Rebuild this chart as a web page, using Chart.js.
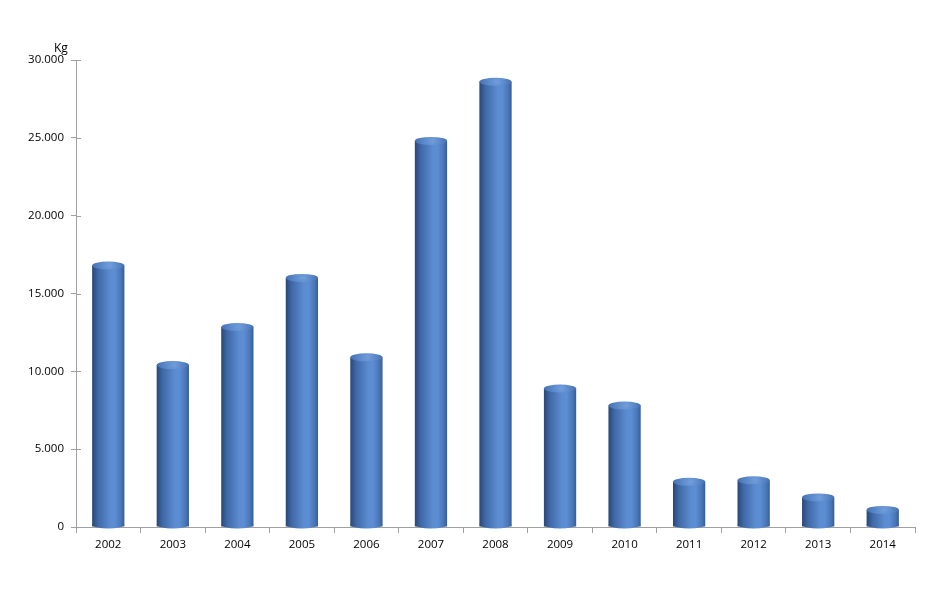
<!DOCTYPE html>
<html>
<head>
<meta charset="utf-8">
<script src="https://cdn.jsdelivr.net/npm/chart.js@4/dist/chart.umd.min.js"></script>
<style>
  body { margin: 0; background: #fff; }
</style>
</head>
<body>
<canvas id="chart" width="935" height="600"></canvas>
<script>
// data
const years = ['2002', '2003', '2004', '2005', '2006', '2007', '2008', '2009', '2010', '2011', '2012', '2013', '2014'];
const kg = [16800, 10400, 12850, 16000, 10900, 24800, 28600, 8900, 7800, 2900, 3000, 1900, 1100];
const yTicks = [0, 5000, 10000, 15000, 20000, 25000, 30000];

// thousands with a dot, like 25.000
function fmt(v) {
  return v === 0 ? '0' : String(v).replace(/\B(?=(\d{3})+(?!\d))/g, '.');
}

// side shading for a cylinder between x0 and x1
function sideGradient(ctx, x0, x1) {
  const g = ctx.createLinearGradient(x0, 0, x1, 0);
  g.addColorStop(0, '#2a4775');
  g.addColorStop(0.18, '#3f68a6');
  g.addColorStop(0.55, '#5b8bd0');
  g.addColorStop(0.7, '#5d8ed4');
  g.addColorStop(0.9, '#4875b6');
  g.addColorStop(1, '#365c94');
  return g;
}

// round tops and bottoms on the bars
const cylinder = {
  id: 'cylinder',
  afterDatasetsDraw(chart) {
    const ctx = chart.ctx;
    chart.getDatasetMeta(0).data.forEach(bar => {
      const w = bar.width, rx = w / 2, ry = 4;
      // bottom
      ctx.save();
      ctx.fillStyle = sideGradient(ctx, bar.x - rx, bar.x + rx);
      ctx.beginPath();
      ctx.ellipse(bar.x, bar.base - 2, rx, ry, 0, 0, Math.PI);
      ctx.fill();
      // top
      const tg = ctx.createRadialGradient(bar.x + rx * 0.1, bar.y, 1, bar.x, bar.y, rx);
      tg.addColorStop(0, '#6f9bd9');
      tg.addColorStop(0.6, '#5584c6');
      tg.addColorStop(1, '#4570ae');
      ctx.fillStyle = tg;
      ctx.beginPath();
      ctx.ellipse(bar.x, bar.y, rx, ry, 0, 0, Math.PI * 2);
      ctx.fill();
      ctx.restore();
    });
  }
};

// "Kg" above the axis, and small ticks to the right of the y axis
const axisExtras = {
  id: 'axisExtras',
  afterDraw(chart) {
    const ctx = chart.ctx;
    const y = chart.scales.y;
    ctx.save();
    ctx.strokeStyle = '#a0a0a0';
    ctx.lineWidth = 1;
    yTicks.forEach(t => {
      const py = Math.round(y.getPixelForValue(t)) + 0.5;
      ctx.beginPath();
      ctx.moveTo(y.right, py);
      ctx.lineTo(y.right + 5, py);
      ctx.stroke();
    });
    ctx.fillStyle = '#000';
    ctx.font = '12px "Open Sans"';
    ctx.textAlign = 'left';
    ctx.textBaseline = 'bottom';
    ctx.fillText('Kg', 54, y.top - 5);
    ctx.restore();
  }
};

new Chart(document.getElementById('chart'), {
  type: 'bar',
  data: {
    labels: years,
    datasets: [{
      data: kg,
      backgroundColor: function (c) {
        const chart = c.chart;
        if (!chart.chartArea) return '#4a7bbf';
        const x = chart.scales.x;
        const cx = x.getPixelForValue(c.dataIndex);
        const half = (x.width / years.length) * 0.5 / 2;
        return sideGradient(chart.ctx, cx - half, cx + half);
      },
      borderWidth: 0,
      categoryPercentage: 1,
      barPercentage: 0.5
    }]
  },
  options: {
    responsive: false,
    animation: false,
    layout: { padding: { top: 60, right: 20, left: 0, bottom: 0 } },
    plugins: { legend: { display: false }, tooltip: { enabled: false } },
    scales: {
      x: {
        afterFit: s => { s.height = 73; },
        grid: { drawOnChartArea: false, color: '#a0a0a0', tickLength: 6, offset: true },
        border: { color: '#a0a0a0' },
        ticks: { color: '#000', font: { family: 'Open Sans', size: 11.5 }, padding: 5 }
      },
      y: {
        min: 0,
        max: 30000,
        afterFit: s => { s.width = 76; },
        afterBuildTicks: s => { s.ticks = yTicks.map(v => ({ value: v })); },
        grid: { drawOnChartArea: false, color: '#a0a0a0', tickLength: 5 },
        border: { color: '#a0a0a0' },
        ticks: {
          color: '#000',
          font: { family: 'Open Sans', size: 11.5 },
          padding: 7,
          callback: v => fmt(v)
        }
      }
    }
  },
  plugins: [cylinder, axisExtras]
});
</script>
</body>
</html>
